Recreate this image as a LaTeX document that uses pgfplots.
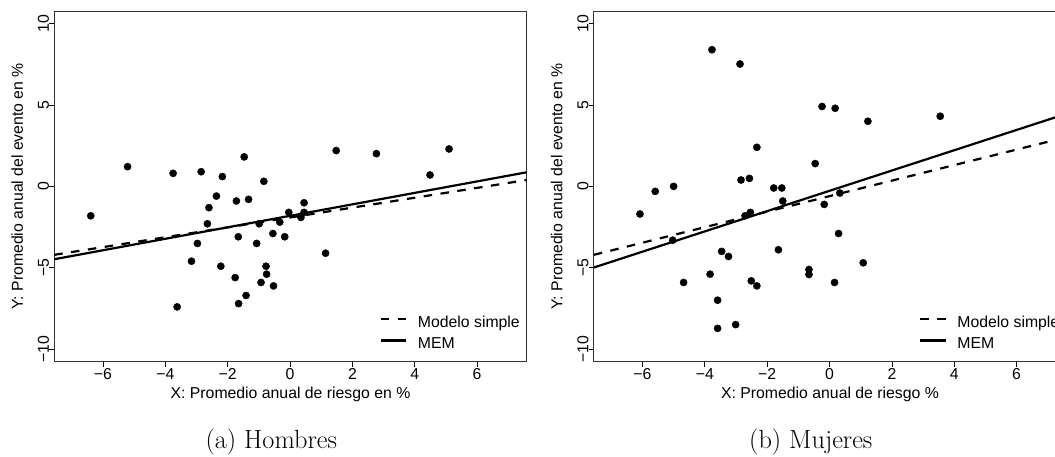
\documentclass[border=0pt]{standalone}
\usepackage{fontspec}
\usepackage{pgfplots}
\pgfplotsset{compat=1.18}
\newfontfamily\sansf{Liberation Sans}
\newcommand\tf{\sansf\fontsize{15.8}{18}\selectfont}

\pgfplotstableread{
x y
-6.39 -1.81
-5.21 1.21
-3.75 0.80
-3.62 -7.41
-2.85 0.90
-3.16 -4.60
-2.97 -3.51
-2.65 -2.30
-2.60 -1.31
-2.36 -0.60
-2.17 0.60
-2.22 -4.91
-1.76 -5.61
-1.65 -7.21
-1.66 -3.10
-1.72 -0.90
-1.47 1.81
-1.33 -0.80
-1.41 -6.71
-1.07 -3.51
-0.99 -2.30
-0.93 -5.91
-0.84 0.31
-0.77 -4.91
-0.75 -5.40
-0.55 -2.90
-0.53 -6.12
-0.33 -2.20
-0.17 -3.10
-0.04 -1.60
0.35 -1.91
0.45 -1.01
0.45 -1.60
1.14 -4.11
1.48 2.20
2.77 2.01
4.49 0.70
5.10 2.30
}\hombres

\pgfplotstableread{
x y
-6.08 -1.70
-5.59 -0.31
-5.00 0.00
-5.03 -3.31
-4.68 -5.91
-3.83 -5.40
-3.77 8.40
-3.59 -8.73
-3.59 -7.00
-3.46 -4.00
-3.24 -4.31
-3.01 -8.50
-2.87 7.52
-2.84 0.39
-2.71 -1.81
-2.57 0.49
-2.54 -1.60
-2.51 -5.81
-2.33 2.40
-2.33 -6.12
-1.79 -0.10
-1.64 -3.90
-1.53 -0.10
-1.50 -0.90
-0.66 -5.11
-0.66 -5.42
-0.46 1.40
-0.24 4.91
-0.17 -1.11
0.16 -5.91
0.18 4.80
0.29 -2.90
0.33 -0.41
1.08 -4.70
1.23 4.00
3.55 4.31
}\mujeres

\pgfplotsset{
  rpanel/.style={
    scale only axis, width=472.4pt, height=350.7pt,
    xmin=-7.56, xmax=7.59, ymin=-10.78, ymax=10.78,
    axis line style={black!80, line width=1pt},
    tick align=outside, major tick length=5pt,
    tick style={black, line width=0.8pt},
    xtick={-6,-4,-2,0,2,4,6}, xticklabels={−6,−4,−2,0,2,4,6},
    ytick={-10,-5,0,5,10}, yticklabels={−10,−5,0,5,10},
    xtick pos=left, ytick pos=left,
    every tick label/.append style={font=\tf, inner sep=0pt},
    xticklabel style={anchor=north, yshift=-2pt},
    yticklabel style={rotate=90, anchor=south},
    label style={font=\tf},
    xlabel style={at={(axis description cs:0.5,-0.093)}, anchor=center},
    ylabel style={at={(axis description cs:-0.0783,0.5)}, anchor=center},
    legend style={draw=none, fill=none, at={(rel axis cs:1,0)}, anchor=south east,
      xshift=-6.7pt, yshift=9.4pt, inner sep=0pt, font=\tf,
      nodes={inner sep=0pt, text height=11.5pt, text depth=3.3pt},
      row sep=6.5pt, column sep=10.4pt},
    legend cell align=left,
    legend image code/.code={\draw[#1] (0pt,4.2pt) -- (25.6pt,4.2pt);},
  }
}

\begin{document}
\begin{tikzpicture}[x=1pt,y=1pt]
\useasboundingbox (0,0) rectangle (1055,456);
\clip (0,0) rectangle (1055,456);
\begin{axis}[rpanel, at={(54.3pt,94.3pt)}, anchor=south west,
  xlabel={X: Promedio anual de riesgo en \%},
  ylabel={Y: Promedio anual del evento en \%}]
\addplot[only marks, mark=*, mark size=3.6pt, black, forget plot] table {\hombres};
\addplot[black, line width=2.2pt, dash pattern=on 8.5pt off 8.5pt] coordinates {(-7.56,-4.21) (7.59,0.39)};
\addlegendentry{Modelo simple}
\addplot[black, line width=2.2pt] coordinates {(-7.56,-4.48) (7.59,0.865)};
\addlegendentry{MEM}
\end{axis}
\begin{axis}[rpanel, at={(593.8pt,94.3pt)}, anchor=south west,
  xlabel={X: Promedio anual de riesgo \%},
  ylabel={Y: Promedio anual del evento en \%}]
\addplot[only marks, mark=*, mark size=3.6pt, black, forget plot] table {\mujeres};
\addplot[black, line width=2.2pt, dash pattern=on 8.5pt off 8.5pt] coordinates {(-7.56,-4.21) (7.59,3.02)};
\addlegendentry{Modelo simple}
\addplot[black, line width=2.2pt] coordinates {(-7.56,-4.99) (7.59,4.46)};
\addlegendentry{MEM}
\end{axis}
\node[font=\fontsize{26.3}{30}\selectfont, anchor=center] at (271.3,14.3) {(a) Hombres};
\node[font=\fontsize{26.3}{30}\selectfont, anchor=center] at (810.8,14.3) {(b) Mujeres};
\end{tikzpicture}
\end{document}
